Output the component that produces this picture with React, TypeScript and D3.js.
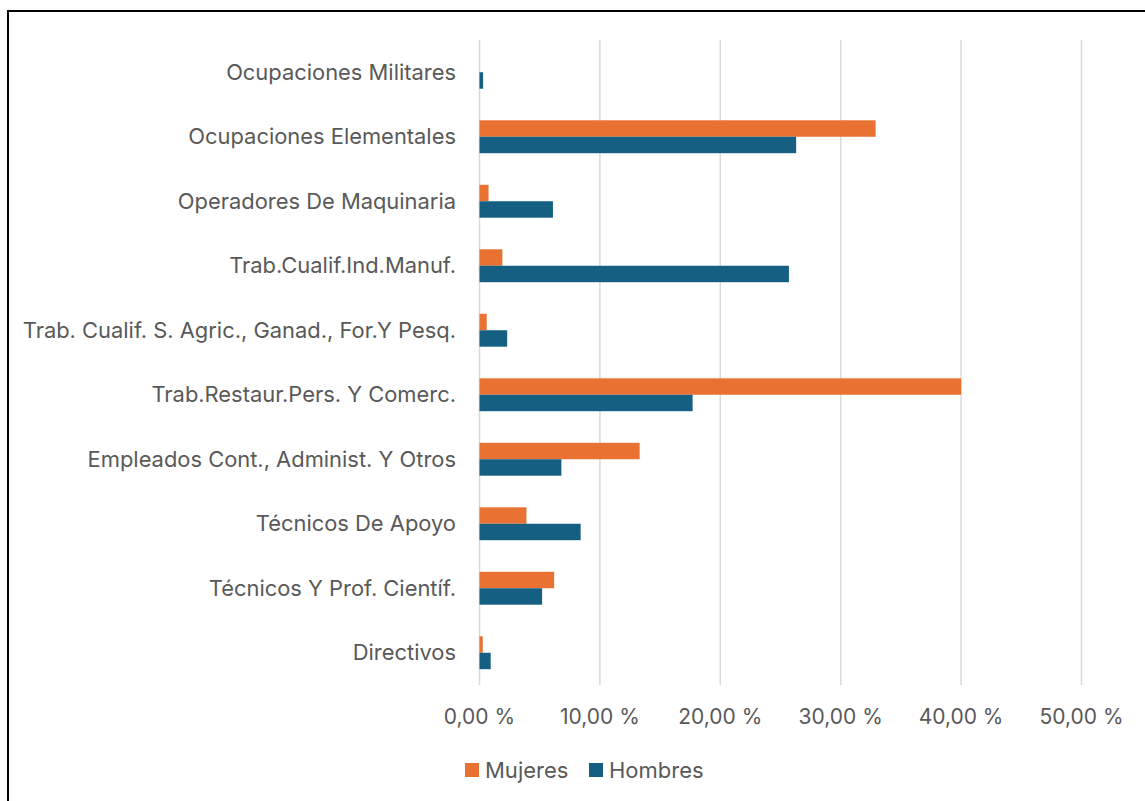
import React from 'react'
import * as d3 from 'd3'

// categories listed bottom to top, as in the chart
const categories = [
  'Directivos',
  'Técnicos Y Prof. Científ.',
  'Técnicos De Apoyo',
  'Empleados Cont., Administ. Y Otros',
  'Trab.Restaur.Pers. Y Comerc.',
  'Trab. Cualif. S. Agric., Ganad., For.Y Pesq.',
  'Trab.Cualif.Ind.Manuf.',
  'Operadores De Maquinaria',
  'Ocupaciones Elementales',
  'Ocupaciones Militares',
]
const mujeres = [0.27, 6.2, 3.9, 13.3, 40.0, 0.6, 1.9, 0.75, 32.9, 0]
const hombres = [0.93, 5.2, 8.4, 6.8, 17.7, 2.3, 25.7, 6.1, 26.3, 0.3]
const ticks = [0, 10, 20, 30, 40, 50]
const seriesNames = ['Mujeres', 'Hombres']
const colors = ['#E97132', '#156082']

const font = "Inter, 'Open Sans', sans-serif"
const textColor = '#595959'

export default function App() {
  const width = 1145
  const height = 801
  const plot = { left: 479.5, right: 1081.5, top: 40, bottom: 685 }

  const x = d3.scaleLinear().domain([0, 50]).range([plot.left, plot.right])
  const y = d3
    .scaleBand<string>()
    .domain([...categories].reverse())
    .range([plot.top, plot.bottom])
    .paddingInner(0.49)
    .paddingOuter(0.245)
  const sub = d3.scaleBand<string>().domain(seriesNames).range([0, y.bandwidth()])

  const values = [mujeres, hombres]

  return (
    <svg
      width={width}
      height={height}
      style={{ position: 'absolute', left: 0, top: 0, background: '#fff' }}
    >
      <rect x={8} y={11} width={1200} height={900} fill="#fff" stroke="#000" strokeWidth={2} />
      {ticks.map((t) => (
        <line
          key={`grid-${t}`}
          x1={x(t)}
          x2={x(t)}
          y1={plot.top}
          y2={plot.bottom}
          stroke="#d9d9d9"
          strokeWidth={1.5}
        />
      ))}
      {categories.map((c, i) => (
        <g key={c} transform={`translate(0, ${y(c)})`}>
          {values.map((vals, s) => (
            <rect
              key={seriesNames[s]}
              x={x(0)}
              y={sub(seriesNames[s]) || 0}
              width={x(vals[i]) - x(0)}
              height={sub.bandwidth()}
              fill={colors[s]}
            />
          ))}
          <text
            x={456}
            y={y.bandwidth() / 2}
            dy="0.35em"
            textAnchor="end"
            fontFamily={font}
            fontSize={21.9}
            fill={textColor}
          >
            {c}
          </text>
        </g>
      ))}
      {ticks.map((t) => (
        <text
          key={`tick-${t}`}
          x={x(t)}
          y={717}
          dy="0.35em"
          textAnchor="middle"
          fontFamily={font}
          fontSize={21}
          fill={textColor}
        >
          {`${d3.format('.2f')(t).replace('.', ',')} %`}
        </text>
      ))}
      <g>
        <rect x={465} y={763} width={14} height={14} fill={colors[0]} />
        <text x={485} y={770} dy="0.35em" fontFamily={font} fontSize={22} fill={textColor}>
          {seriesNames[0]}
        </text>
        <rect x={589} y={763} width={14} height={14} fill={colors[1]} />
        <text x={609} y={770} dy="0.35em" fontFamily={font} fontSize={22} fill={textColor}>
          {seriesNames[1]}
        </text>
      </g>
    </svg>
  )
}
